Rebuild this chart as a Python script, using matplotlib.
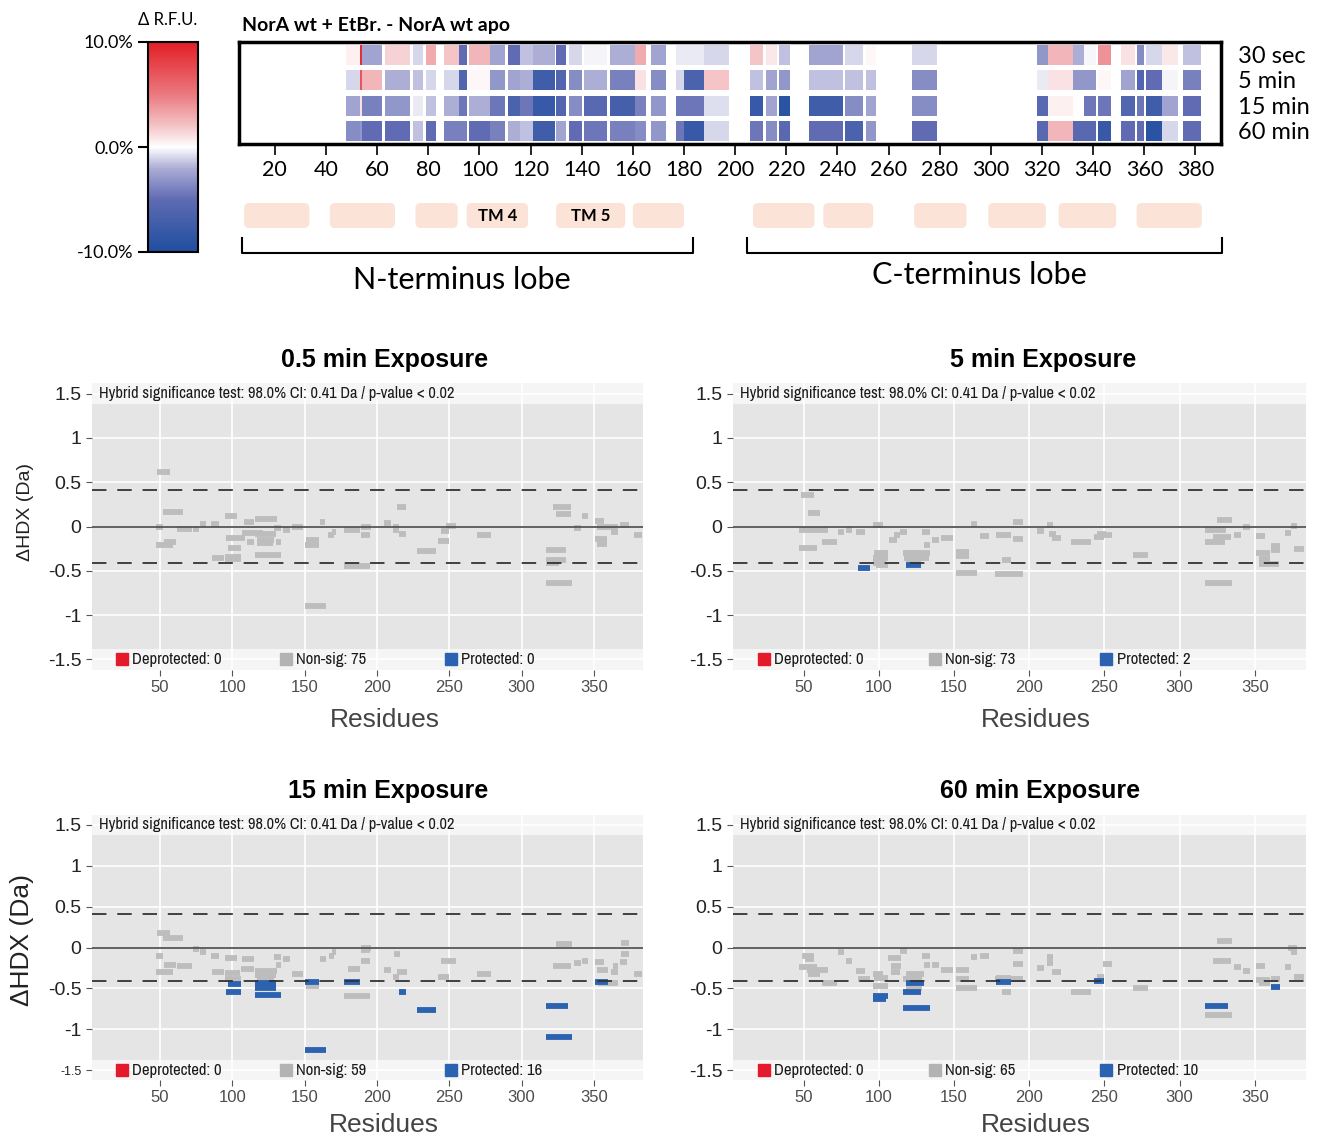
import matplotlib.pyplot as plt
from matplotlib.colors import LinearSegmentedColormap, Normalize
from matplotlib.cm import ScalarMappable
from matplotlib.patches import FancyBboxPatch

# ---- heatmap: peptide segments (residues) and delta RFU (%) per time point
seg_start = [48, 53.2, 54, 63, 74, 79, 86, 92, 96, 104, 111, 116, 121, 130, 135, 141, 151, 161,
             167, 177, 180, 188, 206, 212, 217, 229, 243, 251, 269, 318, 322.5, 332, 336.5, 342,
             351, 357, 360.5, 367, 375]
seg_end = [53.2, 54, 62, 73, 78, 83, 92, 95, 104, 110, 116, 121, 129.5, 134, 140, 150, 161, 165,
           173, 180, 188, 197.5, 211, 216.5, 221.5, 242, 250, 255, 279, 322.5, 332, 336.5, 341, 347,
           356.5, 360, 367, 373, 382]
rfu_30s = [0.5, 9, -2.5, 1.5, -1, 3, 2, -5, 2.5, -2.5, -5, -1.5, -2, -5, -1, -0.3, -2, 3,
           -2.5, -0.5, -0.5, -1, 2, 0.8, -1.5, -2.5, -1, 0.3, -1, -3, 2.5, -2, -0.2, 4,
           1, -3.5, -1, 0.8, -1.5]
rfu_5m = [-1, 7, 2.5, -2, -1.5, -1, -1, -6, 0.3, -3, -2.5, -2, -7.5, -6, -3.5, -2, -4, 1,
          -3.5, -1, -6.5, 2, -1.5, -2.5, -3, -1.5, -1.5, -1.5, -3.5, -0.5, 1, -3, -3, 0.3,
          -2.5, -6, -5, -0.3, -4]
rfu_15m = [-2.5, 1, -4, -3, -0.5, -1.5, -2, -4.5, -2, -4.5, -6.5, -4.5, -8, -6, -3.5, -5.5, -7, -4,
           -3, -4.5, -4.5, -0.8, -8, -2.5, -9, -7.5, -3.5, -2.5, -3.5, -5.5, 0.5, 0, -4.5, -4.5,
           -6, -4.5, -7.5, -2.5, -5]
rfu_60m = [-3.5, -3, -5, -5, -1.5, -5, -4, -4, -5, -4, -2, -1.5, -7.5, -2.5, -5, -4.5, -4, -3.5,
           -3, -4.5, -8, -1, -4.5, -3.5, -5.5, -5, -6.5, -3, -5, -5.5, 2.5, -5.5, -5.5, -8,
           -5, -5, -9, -1, -5]
row_labels = ['30 sec', '5 min', '15 min', '60 min']

# ---- transmembrane helices and lobes
tm_start = [8, 41.5, 75, 95, 130, 160, 207, 234.5, 270, 299, 326.5, 357]
tm_end = [33.5, 67, 91.5, 119, 157, 180, 231, 254, 290.5, 321.5, 349, 382.5]
tm_labels = ['', '', '', 'TM 4', 'TM 5', '', '', '', '', '', '', '']
lobe_start = [7.1, 204.5]
lobe_end = [183.4, 390.5]
lobe_labels = ['N-terminus lobe', 'C-terminus lobe']

# ---- peptide level dHDX (start, end, dHDX in Da, status n=non-sig p=protected)
pep_05min = [
    (48, 57, 0.61, 'n'), (52, 66, 0.16, 'n'), (47, 52, 0.0, 'n'), (62, 72, -0.03, 'n'),
    (47, 59, -0.21, 'n'), (53, 61, -0.17, 'n'), (73, 77, -0.03, 'n'), (78, 82, 0.03, 'n'),
    (85, 91, 0.03, 'n'), (86, 94, -0.36, 'n'), (95, 103, 0.12, 'n'), (96, 109, -0.13, 'n'),
    (97, 106, -0.24, 'n'), (95, 106, -0.34, 'n'), (95, 106, -0.37, 'n'), (108, 115, 0.05, 'n'),
    (107, 121, -0.07, 'n'), (116, 131, 0.08, 'n'), (116, 130, -0.09, 'n'), (117, 129, -0.15, 'n'),
    (117, 128, -0.19, 'n'), (110, 115, -0.17, 'n'), (116, 134, -0.32, 'n'), (130, 134, -0.18, 'n'),
    (129, 134, -0.02, 'n'), (135, 140, -0.04, 'n'), (141, 149, -0.01, 'n'), (161, 164, 0.05, 'n'),
    (151, 160, -0.15, 'n'), (150, 160, -0.21, 'n'), (150, 165, -0.90, 'n'), (166, 170, -0.10, 'n'),
    (169, 172, -0.06, 'n'), (177, 188, -0.04, 'n'), (189, 196, -0.01, 'n'), (189, 195, -0.10, 'n'),
    (177, 195, -0.45, 'n'), (205, 210, 0.04, 'n'), (211, 215, 0.0, 'n'), (211, 215, -0.04, 'n'),
    (215, 220, -0.08, 'n'), (214, 220, 0.22, 'n'), (228, 241, -0.28, 'n'), (242, 250, -0.16, 'n'),
    (244, 250, -0.05, 'n'), (248, 255, 0.01, 'n'), (269, 279, -0.10, 'n'), (322, 334, 0.22, 'n'),
    (324, 334, 0.14, 'n'), (317, 331, -0.26, 'n'), (317, 331, -0.38, 'n'), (317, 326, -0.41, 'n'),
    (317, 335, -0.64, 'n'), (336, 341, -0.02, 'n'), (342, 346, 0.12, 'n'), (351, 357, 0.06, 'n'),
    (352, 360, 0.0, 'n'), (351, 359, -0.14, 'n'), (352, 359, -0.20, 'n'), (357, 367, 0.0, 'n'),
    (362, 367, -0.06, 'n'), (368, 374, 0.02, 'n'), (378, 383, -0.10, 'n')]
pep_5min = [
    (48, 57, 0.36, 'n'), (53, 61, 0.15, 'n'), (47, 66, -0.04, 'n'), (62, 72, -0.18, 'n'),
    (47, 59, -0.24, 'n'), (73, 77, -0.06, 'n'), (78, 82, -0.04, 'n'), (85, 91, -0.06, 'n'),
    (86, 94, -0.47, 'p'), (96, 103, 0.02, 'n'), (97, 106, -0.30, 'n'), (96, 106, -0.35, 'n'),
    (96, 105, -0.41, 'n'), (98, 106, -0.43, 'n'), (107, 112, -0.15, 'n'), (110, 114, -0.10, 'n'),
    (114, 119, -0.06, 'n'), (116, 134, -0.30, 'n'), (117, 133, -0.35, 'n'), (118, 128, -0.39, 'n'),
    (118, 128, -0.44, 'p'), (129, 134, -0.06, 'n'), (130, 134, -0.21, 'n'), (135, 140, -0.15, 'n'),
    (141, 149, -0.13, 'n'), (161, 165, 0.03, 'n'), (151, 160, -0.29, 'n'), (151, 160, -0.33, 'n'),
    (151, 165, -0.52, 'n'), (167, 173, -0.11, 'n'), (178, 188, -0.10, 'n'), (182, 188, -0.38, 'n'),
    (177, 196, -0.54, 'n'), (189, 196, -0.14, 'n'), (189, 196, 0.05, 'n'), (205, 210, -0.05, 'n'),
    (212, 216, 0.02, 'n'), (213, 218, -0.08, 'n'), (215, 221, -0.13, 'n'), (228, 241, -0.18, 'n'),
    (243, 250, -0.12, 'n'), (245, 251, -0.08, 'n'), (250, 255, -0.10, 'n'), (269, 279, -0.32, 'n'),
    (317, 331, -0.04, 'n'), (325, 335, 0.07, 'n'), (322, 334, -0.12, 'n'), (317, 330, -0.18, 'n'),
    (317, 335, -0.64, 'n'), (336, 341, -0.10, 'n'), (342, 347, 0.0, 'n'), (351, 357, -0.11, 'n'),
    (351, 360, -0.30, 'n'), (353, 360, -0.37, 'n'), (353, 366, -0.42, 'n'), (361, 367, -0.22, 'n'),
    (361, 367, -0.27, 'n'), (370, 374, -0.07, 'n'), (374, 378, 0.01, 'n'), (376, 383, -0.25, 'n')]
pep_15min = [
    (48, 57, 0.18, 'n'), (52, 66, 0.12, 'n'), (47, 52, -0.10, 'n'), (53, 61, -0.22, 'n'),
    (47, 59, -0.30, 'n'), (62, 72, -0.23, 'n'), (73, 77, -0.02, 'n'), (78, 82, -0.05, 'n'),
    (85, 91, -0.11, 'n'), (86, 94, -0.30, 'n'), (95, 103, -0.13, 'n'), (95, 105, -0.31, 'n'),
    (95, 106, -0.38, 'n'), (97, 106, -0.45, 'p'), (96, 106, -0.55, 'p'), (107, 115, -0.14, 'n'),
    (106, 115, -0.26, 'n'), (116, 131, -0.29, 'n'), (116, 130, -0.34, 'n'), (117, 129, -0.39, 'n'),
    (116, 130, -0.44, 'p'), (116, 130, -0.50, 'p'), (116, 134, -0.58, 'p'), (129, 134, -0.12, 'n'),
    (130, 134, -0.22, 'n'), (135, 140, -0.14, 'n'), (141, 149, -0.32, 'n'), (150, 160, -0.42, 'p'),
    (151, 160, -0.47, 'n'), (150, 165, -1.25, 'p'), (161, 165, -0.14, 'n'), (167, 170, -0.10, 'n'),
    (169, 172, -0.06, 'n'), (180, 188, -0.26, 'n'), (177, 188, -0.42, 'p'), (177, 195, -0.59, 'n'),
    (189, 195, -0.17, 'n'), (189, 195, -0.03, 'n'), (189, 196, 0.0, 'n'), (205, 210, -0.28, 'n'),
    (212, 216, -0.08, 'n'), (211, 215, -0.36, 'n'), (215, 220, -0.55, 'p'), (214, 221, -0.30, 'n'),
    (228, 241, -0.77, 'p'), (242, 250, -0.36, 'n'), (244, 255, -0.17, 'n'), (269, 279, -0.33, 'n'),
    (322, 334, -0.23, 'n'), (324, 335, 0.04, 'n'), (317, 332, -0.71, 'p'), (317, 335, -1.09, 'p'),
    (336, 341, -0.19, 'n'), (342, 346, -0.16, 'n'), (351, 357, -0.18, 'n'), (352, 360, -0.27, 'n'),
    (351, 360, -0.42, 'p'), (353, 367, -0.44, 'n'), (362, 367, -0.30, 'n'), (363, 367, -0.23, 'n'),
    (368, 373, -0.18, 'n'), (369, 374, -0.08, 'n'), (369, 374, 0.06, 'n'), (378, 383, -0.32, 'n')]
pep_60min = [
    (49, 57, -0.10, 'n'), (51, 57, -0.14, 'n'), (47, 59, -0.24, 'n'), (52, 66, -0.28, 'n'),
    (53, 61, -0.32, 'n'), (62, 72, -0.43, 'n'), (73, 77, -0.05, 'n'), (78, 82, -0.17, 'n'),
    (85, 91, -0.29, 'n'), (86, 94, -0.39, 'n'), (96, 103, -0.32, 'n'), (97, 106, -0.37, 'n'),
    (96, 106, -0.47, 'n'), (96, 106, -0.59, 'p'), (96, 105, -0.63, 'p'), (106, 115, -0.13, 'n'),
    (108, 115, -0.23, 'n'), (108, 114, -0.30, 'n'), (114, 119, -0.04, 'n'), (118, 130, -0.32, 'n'),
    (116, 129, -0.39, 'n'), (118, 130, -0.43, 'p'), (116, 128, -0.55, 'p'), (116, 134, -0.74, 'p'),
    (118, 129, -0.49, 'n'), (129, 134, -0.11, 'n'), (130, 134, -0.21, 'n'), (135, 140, -0.21, 'n'),
    (141, 149, -0.28, 'n'), (151, 160, -0.27, 'n'), (151, 160, -0.39, 'n'), (151, 165, -0.50, 'n'),
    (161, 165, -0.12, 'n'), (167, 173, -0.10, 'n'), (178, 188, -0.37, 'n'), (178, 188, -0.42, 'p'),
    (182, 188, -0.54, 'n'), (177, 196, -0.38, 'n'), (189, 196, -0.20, 'n'), (189, 196, -0.04, 'n'),
    (205, 210, -0.25, 'n'), (212, 216, -0.12, 'n'), (212, 216, -0.19, 'n'), (215, 221, -0.30, 'n'),
    (228, 241, -0.54, 'n'), (245, 250, -0.36, 'n'), (243, 250, -0.41, 'p'), (249, 255, -0.20, 'n'),
    (269, 279, -0.49, 'n'), (325, 335, 0.08, 'n'), (322, 334, -0.17, 'n'), (317, 332, -0.71, 'p'),
    (317, 335, -0.82, 'n'), (336, 341, -0.24, 'n'), (342, 347, -0.29, 'n'), (351, 357, -0.23, 'n'),
    (351, 360, -0.40, 'n'), (353, 360, -0.44, 'n'), (361, 367, -0.39, 'n'), (361, 367, -0.48, 'p'),
    (370, 374, -0.24, 'n'), (372, 378, 0.0, 'n'), (374, 378, -0.05, 'n'), (376, 383, -0.36, 'n')]

panel_titles = ['0.5 min Exposure', '5 min Exposure', '15 min Exposure', '60 min Exposure']
n_deprot = [0, 0, 0, 0]
n_nonsig = [75, 73, 59, 65]
n_prot = [0, 2, 16, 10]

W, H = 1323, 1142
fig = plt.figure(figsize=(W / 100, H / 100), dpi=100)
TOP = ['Lato', 'DejaVu Sans']
ARIAL = ['Liberation Sans', 'DejaVu Sans']
NARROW = ['Liberation Sans Narrow', 'Archivo Narrow', 'Roboto Condensed', 'PT Sans Narrow',
          'Liberation Sans']


def px_axes(x0, y0, x1, y1):
    return fig.add_axes([x0 / W, 1 - y1 / H, (x1 - x0) / W, (y1 - y0) / H])


rfu_cmap = LinearSegmentedColormap.from_list('rfu', [
    (0.0, '#1f4e9f'), (0.25, '#5f6bb3'), (0.4, '#adaed6'), (0.5, '#ffffff'),
    (0.6, '#f4c4c7'), (0.75, '#ea7a80'), (1.0, '#e31e25')])
norm = Normalize(-10, 10)

# colorbar
cax = px_axes(148, 42, 198, 252)
cb = fig.colorbar(ScalarMappable(norm=norm, cmap=rfu_cmap), cax=cax, ticks=[-10, 0, 10])
cax.yaxis.set_ticks_position('left')
cax.set_yticklabels(['-10.0%', '0.0%', '10.0%'], family=TOP, fontsize=13)
cax.tick_params(length=7, width=1.5)
cb.outline.set_linewidth(1.5)
fig.text(168 / W, 1 - 20 / H, 'Δ R.F.U.', family=TOP, fontsize=12, ha='center', va='center')

# heatmap
hax = px_axes(239, 42, 1221, 144)
for i, vals in enumerate([rfu_30s, rfu_5m, rfu_15m, rfu_60m]):
    widths = [e - s for s, e in zip(seg_start, seg_end)]
    hax.barh([i + 0.5] * len(vals), widths, left=seg_start, height=0.8,
             color=rfu_cmap(norm(vals)), lw=0)
    hax.text(1.017, i + 0.55, row_labels[i], transform=hax.get_yaxis_transform(),
             family=TOP, fontsize=17, va='center', ha='left')
hax.set_xlim(6, 390)
hax.set_ylim(4, 0)
hax.set_yticks([])
hax.set_xticks(range(20, 381, 20))
hax.tick_params(axis='x', length=8, width=1.2, labelsize=15.5)
for lab in hax.get_xticklabels():
    lab.set_family(TOP)
for sp in hax.spines.values():
    sp.set_linewidth(2.5)
fig.text(242 / W, 1 - 25 / H, 'NorA wt + EtBr. - NorA wt apo', family=TOP,
         fontsize=14, weight='bold', va='center')

# helices and lobes
aax = px_axes(239, 195, 1221, 300)
aax.set_xlim(6, 390)
aax.set_ylim(105, 0)
aax.axis('off')
for s, e, lab in zip(tm_start, tm_end, tm_labels):
    aax.add_patch(FancyBboxPatch((s, 8), e - s, 25, boxstyle='round,pad=0,rounding_size=2',
                                 mutation_aspect=2.558, fc='#fce3d8', ec='none'))
    if lab:
        aax.text((s + e) / 2, 21, lab, ha='center', va='center', fontsize=12,
                 weight='bold', family=TOP)
for s, e, lab, ly in zip(lobe_start, lobe_end, lobe_labels, [85, 80]):
    aax.plot([s, s, e, e], [43, 58, 58, 43], color='black', lw=1.5, clip_on=False)
    aax.text((s + e) / 2 - 2, ly, lab, ha='center', va='center', fontsize=22, family=TOP)

# dHDX panels
rects = [(92, 383, 643, 670), (733, 383, 1306, 670), (92, 815, 643, 1080), (733, 815, 1306, 1080)]
title_pos = [(385, 360), (1043, 360), (388, 791), (1040, 791)]
resid_pos = [(385, 720), (1036, 720), (384, 1125), (1036, 1125)]
peps_all = [pep_05min, pep_5min, pep_15min, pep_60min]

for k in range(4):
    ax = px_axes(*rects[k])
    ax.set_facecolor('#e5e5e5')
    ax.set_xlim(3, 384)
    ax.set_ylim(-1.62, 1.62)
    ax.set_xticks(range(50, 351, 50))
    ax.set_yticks([1.5, 1, 0.5, 0, -0.5, -1, -1.5])
    ax.set_yticklabels(['1.5', '1', '0.5', '0', '-0.5', '-1', '-1.5'])
    ax.grid(color='white', lw=1.2)
    ax.set_axisbelow(True)
    for sp in ax.spines.values():
        sp.set_visible(False)
    ax.tick_params(length=4, width=0.8, color='#555555')
    ax.tick_params(axis='x', labelsize=12, labelcolor='#4d4d4d')
    ax.tick_params(axis='y', labelsize=14, labelcolor='#222222')
    for lab in ax.get_xticklabels() + ax.get_yticklabels():
        lab.set_family(ARIAL)
    if k == 2:
        ax.get_yticklabels()[-1].set_fontsize(9)

    ax.axhspan(1.38, 1.7, color='white', alpha=0.65, lw=0, zorder=1)
    ax.axhspan(-1.7, -1.38, color='white', alpha=0.65, lw=0, zorder=1)

    peps = peps_all[k]
    for status, col in (('n', '#bdbdbd'), ('p', '#2b63b1')):
        sel = [p for p in peps if p[3] == status]
        ax.hlines([p[2] for p in sel], [p[0] for p in sel], [p[1] for p in sel],
                  colors=col, lw=4.2, zorder=2)
    ax.axhline(0, color='#555555', lw=1.3, zorder=3)
    for yv in (0.41, -0.41):
        ax.axhline(yv, color='#333333', lw=1.3, dashes=(8, 6), zorder=3)

    ax.text(7.7, 1.5, 'Hybrid significance test: 98.0% CI: 0.41 Da / p-value < 0.02',
            family=NARROW, fontsize=11.8, weight='bold', va='center', ha='left',
            color='#1a1a1a')
    legend = [('#e41a2c', f'Deprotected: {n_deprot[k]}', 23.5),
              ('#b3b3b3', f'Non-sig: {n_nonsig[k]}', 137),
              ('#2b63b1', f'Protected: {n_prot[k]}', 251)]
    for col, txt, xp in legend:
        ax.plot(xp, -1.5, 's', ms=8, color=col, zorder=4)
        ax.text(xp + 7, -1.5, txt, family=NARROW, fontsize=12, weight='bold',
                va='center', ha='left', color='#1a1a1a')

    tx, ty = title_pos[k]
    fig.text(tx / W, 1 - ty / H, panel_titles[k], family=ARIAL, fontsize=18, weight='bold',
             ha='center', va='center')
    rx, ry = resid_pos[k]
    fig.text(rx / W, 1 - ry / H, 'Residues', family=ARIAL, fontsize=19, color='#444444',
             ha='center', va='center')

fig.text(25 / W, 1 - 512 / H, 'ΔHDX (Da)', family=ARIAL, fontsize=14, rotation=90,
         ha='center', va='center', color='#222222')
fig.text(22 / W, 1 - 940 / H, 'ΔHDX (Da)', family=ARIAL, fontsize=19, rotation=90,
         ha='center', va='center', color='#222222')

fig.savefig('out.png', dpi=100, facecolor='white')
